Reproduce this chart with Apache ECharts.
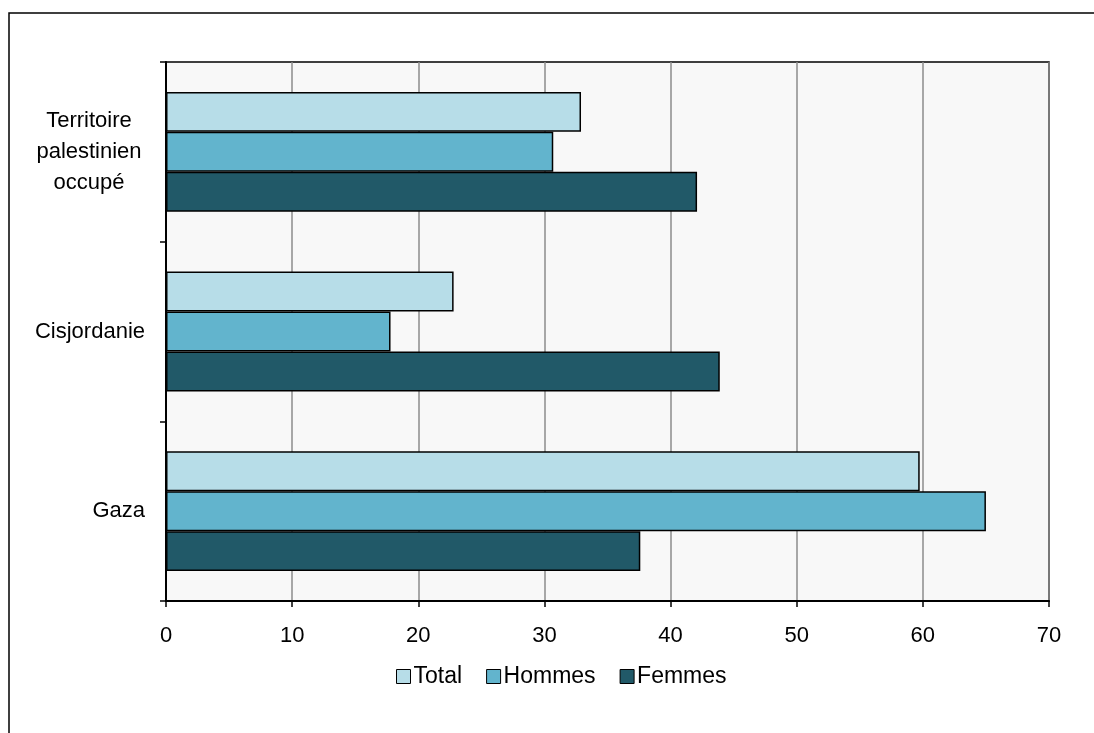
<!DOCTYPE html>
<html>
<head>
<meta charset="utf-8">
<script src="https://cdn.jsdelivr.net/npm/echarts@6/dist/echarts.min.js"></script>
<style>
  html, body { margin: 0; padding: 0; background: #ffffff; }
  #chart { width: 1094px; height: 733px; }
</style>
</head>
<body>
<div id="chart"></div>
<script>
// Regions (top to bottom) and the three series values (%)
const categories = ['Territoire\npalestinien\noccupé', 'Cisjordanie', 'Gaza'];
const totalValues = [32.9, 22.8, 59.75];
const hommesValues = [30.7, 17.8, 65.0];
const femmesValues = [42.1, 43.9, 37.6];
const xTicks = [0, 10, 20, 30, 40, 50, 60, 70];

const FONT = '"Liberation Sans", Arial, sans-serif';
const chart = echarts.init(document.getElementById('chart'), null, { renderer: 'canvas' });

function barSeries(name, data, color) {
  return {
    name: name,
    type: 'bar',
    data: data,
    barGap: '0%',
    barCategoryGap: '33.3%',
    itemStyle: { color: color, borderColor: '#000000', borderWidth: 1.5 },
    emphasis: { disabled: true }
  };
}

// Wrapped category names: each line centred inside a common box,
// the box itself right-aligned against the axis.
function categoryLabel(value) {
  const lines = value.split('\n');
  if (lines.length === 1) return value;
  return lines.map(function (l) { return '{c|' + l + '}'; }).join('\n');
}

chart.setOption({
  animation: false,
  backgroundColor: '#ffffff',
  graphic: [{
    type: 'rect',
    shape: { x: 9, y: 13, width: 1100, height: 740 },
    style: { fill: 'none', stroke: '#000000', lineWidth: 1.5 },
    z: 100
  }],
  grid: {
    left: 166, right: 45, top: 62, bottom: 132,
    show: true, backgroundColor: '#f8f8f8',
    borderColor: '#000000', borderWidth: 1.5
  },
  legend: {
    bottom: 40, left: 391,
    itemWidth: 14, itemHeight: 14, itemGap: 24,
    textStyle: { fontFamily: FONT, fontSize: 23, color: '#000000', padding: [0, 0, 0, -2] },
    data: [
      { name: 'Total', icon: 'rect', itemStyle: { borderColor: '#000', borderWidth: 1 } },
      { name: 'Hommes', icon: 'rect', itemStyle: { borderColor: '#000', borderWidth: 1 } },
      { name: 'Femmes', icon: 'rect', itemStyle: { borderColor: '#000', borderWidth: 1 } }
    ]
  },
  xAxis: {
    type: 'value',
    min: xTicks[0], max: xTicks[xTicks.length - 1], interval: 10,
    axisLine: { show: true, lineStyle: { color: '#000000', width: 2 } },
    axisTick: { show: true, length: 6, lineStyle: { color: '#000000', width: 1.5 } },
    axisLabel: { margin: 24, fontFamily: FONT, fontSize: 22, color: '#000000' },
    splitLine: { show: true, lineStyle: { color: '#8c8c8c', width: 1.5 } }
  },
  yAxis: {
    type: 'category',
    inverse: true,
    data: categories,
    axisLine: { show: true, lineStyle: { color: '#000000', width: 2 } },
    axisTick: { show: true, length: 6, lineStyle: { color: '#000000', width: 1.5 } },
    axisLabel: {
      margin: 21, fontFamily: FONT, fontSize: 22, color: '#000000',
      lineHeight: 31, align: 'right',
      formatter: categoryLabel,
      rich: {
        c: { fontFamily: FONT, fontSize: 22, color: '#000000', lineHeight: 31, width: 112, align: 'center' }
      }
    }
  },
  series: [
    barSeries('Total', totalValues, '#b7dde8'),
    barSeries('Hommes', hommesValues, '#62b4cd'),
    barSeries('Femmes', femmesValues, '#215968')
  ]
});
</script>
</body>
</html>
